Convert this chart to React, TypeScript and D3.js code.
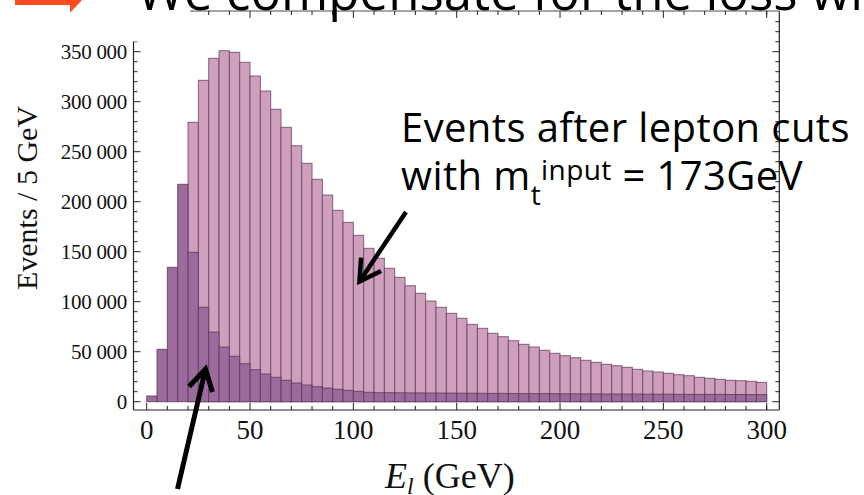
import React from "react";
import * as d3 from "d3";

const binStarts = [0,5,10,15,20,25,30,35,40,45,50,55,60,65,70,75,80,85,90,95,100,105,110,115,120,125,130,135,140,145,150,155,160,165,170,175,180,185,190,195,200,205,210,215,220,225,230,235,240,245,250,255,260,265,270,275,280,285,290,295];
const binWidth = 5;

// Events after lepton cuts (light pink)
const afterCuts = [0,0,0,0,279400,321400,343400,351000,349400,339400,325700,310700,292400,274400,256000,238400,222400,206700,191400,179400,166400,153400,143400,133400,124400,116000,108400,100700,94400,88400,83400,77400,73400,68400,65000,61000,57400,54700,51400,48400,46000,44000,41400,39400,37400,36000,34400,32400,30700,29700,28400,27000,26000,24400,23400,22400,21400,21000,20400,19400];

// Lost events (dark purple)
const lost = [5700,52400,134400,217400,149400,94400,69700,54700,45400,38000,32000,27700,24400,21400,18700,16700,15000,13700,12400,11400,10400,9400,9000,9000,8900,8800,8800,8700,8600,8600,8500,8400,8400,8300,8300,8200,8100,8100,8000,8000,7900,7900,7800,7800,7700,7700,7600,7600,7500,7500,7500,7400,7400,7300,7300,7300,7200,7200,7100,7100];

const xMajor = [0,50,100,150,200,250,300];
const xMinor = [-10,10,20,30,40,60,70,80,90,110,120,130,140,160,170,180,190,210,220,230,240,260,270,280,290,300];
const yMajor = [0,50000,100000,150000,200000,250000,300000,350000];
const yMajorLabels = ["0","50 000","100 000","150 000","200 000","250 000","300 000","350 000"];
const yMinor = [-10000,10000,20000,30000,40000,60000,70000,80000,90000,110000,120000,130000,140000,160000,170000,180000,190000,210000,220000,230000,240000,260000,270000,280000,290000,310000,320000,330000,340000,360000,370000,380000];

const titleText = "We compensate for the loss wi";

export default function App() {
  const x = d3.scaleLinear().domain([0, 300]).range([146.7, 766.7]);
  const y = d3.scaleLinear().domain([0, 350000]).range([401.7, 51.7]);
  const L = 133.5, R = 779.3, T = 11, B = 410;
  const serif = "'Liberation Serif', 'Times New Roman', serif";
  const sans = "'Open Sans', sans-serif";
  const pink = "#cf9fbb";
  const dark = "#9c6a9c";
  const edge = "#5e3d5e";

  const arrow1 = { x1: 406, y1: 212, x2: 359.5, y2: 281.5 };
  const arrow2 = { x1: 177.5, y1: 489, x2: 205.5, y2: 369 };
  const head = (a: { x1: number; y1: number; x2: number; y2: number }, len: number) => {
    const ang = Math.atan2(a.y1 - a.y2, a.x1 - a.x2);
    const s = Math.PI / 6;
    const p1 = [a.x2 + len * Math.cos(ang + s), a.y2 + len * Math.sin(ang + s)];
    const p2 = [a.x2 + len * Math.cos(ang - s), a.y2 + len * Math.sin(ang - s)];
    return `M${p1[0]},${p1[1]} L${a.x2},${a.y2} L${p2[0]},${p2[1]}`;
  };

  return (
    <svg width={864} height={495} style={{ position: "absolute", left: 0, top: 0, background: "#fff" }}>
      <rect width={864} height={495} fill="#fff" />
      {/* bars: pink then dark */}
      <g>
        {binStarts.map((b, i) =>
          afterCuts[i] > 0 ? (
            <rect key={"p" + i} x={x(b)} y={y(afterCuts[i])} width={x(b + binWidth) - x(b)} height={y(0) - y(afterCuts[i])}
              fill={pink} stroke={edge} strokeOpacity={0.75} strokeWidth={1} />
          ) : null
        )}
        {binStarts.map((b, i) => (
          <rect key={"d" + i} x={x(b)} y={y(lost[i])} width={x(b + binWidth) - x(b)} height={y(0) - y(lost[i])}
            fill={dark} stroke={edge} strokeOpacity={0.85} strokeWidth={1} />
        ))}
      </g>
      {/* frame */}
      <line x1={L} x2={L} y1={T} y2={B} stroke="#222" strokeWidth={1.2} />
      <line x1={L} x2={R} y1={B} y2={B} stroke="#222" strokeWidth={1.2} />
      <line x1={R} x2={R} y1={T} y2={B} stroke="#222" strokeWidth={1.2} />
      <line x1={L} x2={R} y1={T} y2={T} stroke="#888" strokeWidth={1.5} />
      {/* x ticks */}
      {xMajor.map((v) => (
        <g key={"xM" + v}>
          <line x1={x(v)} x2={x(v)} y1={B} y2={B - 7} stroke="#222" />
          <line x1={x(v)} x2={x(v)} y1={T} y2={T + 7} stroke="#222" />
          <text x={x(v)} y={438.5} textAnchor="middle" fontFamily={serif} fontSize={27} fill="#111">{v}</text>
        </g>
      ))}
      {xMinor.filter((v) => x(v) > L && x(v) < R).map((v) => (
        <g key={"xm" + v}>
          <line x1={x(v)} x2={x(v)} y1={B} y2={B - 4} stroke="#222" />
          <line x1={x(v)} x2={x(v)} y1={T} y2={T + 4} stroke="#222" />
        </g>
      ))}
      {/* y ticks */}
      {yMajor.map((v, i) => (
        <g key={"yM" + v}>
          <line x1={L} x2={L + 7} y1={y(v)} y2={y(v)} stroke="#222" />
          <line x1={R} x2={R - 7} y1={y(v)} y2={y(v)} stroke="#222" />
          <text x={127} y={y(v)} dy="0.35em" textAnchor="end" fontFamily={serif} fontSize={21} letterSpacing={-0.3} fill="#111">{yMajorLabels[i]}</text>
        </g>
      ))}
      {yMinor.filter((v) => y(v) > T && y(v) < B).map((v) => (
        <g key={"ym" + v}>
          <line x1={L} x2={L + 4} y1={y(v)} y2={y(v)} stroke="#222" />
          <line x1={R} x2={R - 4} y1={y(v)} y2={y(v)} stroke="#222" />
        </g>
      ))}
      {/* axis labels */}
      <text transform="translate(37,198) rotate(-90)" textAnchor="middle" fontFamily={serif} fontSize={30} fill="#111">Events / 5 GeV</text>
      <text x={385} y={488} fontFamily={serif} fontSize={36} fill="#111">
        <tspan fontStyle="italic">E</tspan>
        <tspan fontStyle="italic" fontSize={24} dy={6}>l</tspan>
        <tspan dy={-6}> (GeV)</tspan>
      </text>
      {/* covering white box from slide */}
      <rect x={0} y={0} width={190} height={41.5} fill="#fff" />
      {/* red arrow */}
      <path d="M15,0 L82,0 L70,12.7 L70,5 L15,5 Z" fill="#ff4a1f" />
      {/* slide title */}
      <text x={137} y={10} fontFamily={sans} fontSize={51} fill="#000">{titleText}</text>
      {/* annotations */}
      <text x={401} y={141.5} fontFamily={sans} fontSize={40} letterSpacing={0.4} fill="#000">Events after lepton cuts</text>
      <text x={401} y={190} fontFamily={sans} fontSize={40} letterSpacing={0.4} fill="#000">
        <tspan>with m</tspan>
        <tspan fontSize={28} dy={15}>t</tspan>
        <tspan fontSize={28} dy={-25}>input</tspan>
        <tspan dy={10}> = 173GeV</tspan>
      </text>
      {/* arrows */}
      <line x1={arrow1.x1} y1={arrow1.y1} x2={arrow1.x2} y2={arrow1.y2} stroke="#000" strokeWidth={4.5} />
      <path d={head(arrow1, 24)} fill="none" stroke="#000" strokeWidth={4.5} />
      <line x1={arrow2.x1} y1={arrow2.y1} x2={arrow2.x2} y2={arrow2.y2} stroke="#000" strokeWidth={5} />
      <path d={head(arrow2, 24)} fill="none" stroke="#000" strokeWidth={5} />
    </svg>
  );
}
